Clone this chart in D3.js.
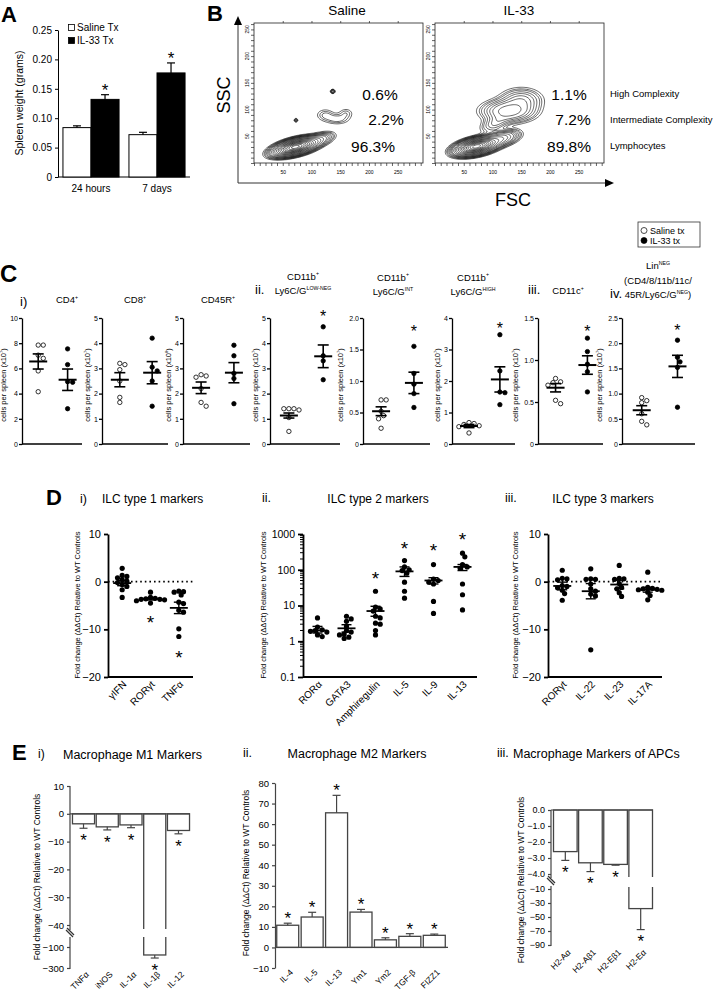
<!DOCTYPE html>
<html><head><meta charset="utf-8">
<script src="https://cdn.jsdelivr.net/npm/d3@7/dist/d3.min.js"></script>
<style>body{margin:0;background:#fff}svg{display:block}</style>
</head><body><svg id="fig" width="721" height="996"></svg>
<script>
// ================= DATA =================
// Panel A
const aGroups = ["24 hours", "7 days"];
const aSeries = ["Saline Tx", "IL-33 Tx"];
const aSaline = [0.084, 0.072];
const aSalineErr = [0.003, 0.004];
const aIL33 = [0.132, 0.177];
const aIL33Err = [0.008, 0.017];
const aTicks = [0, 0.05, 0.10, 0.15, 0.20, 0.25];

// Panel B
const bSamples = ["Saline", "IL-33"];
const bGates = ["High Complexity", "Intermediate Complexity", "Lymphocytes"];
const bSalinePct = ["0.6%", "2.2%", "96.3%"];
const bIL33Pct = ["1.1%", "7.2%", "89.8%"];
const bTicks = [50, 100, 150, 200, 250];
// populations: [FSC centre, SSC centre, sd major, sd minor, angle deg, weight]
const bSalinePops = [[72,30,18,6.2,15,1],[114,44,14,6,18,0.05],[124,90,10,7,0,0.012],[145,82,13,6,0,0.014],[160,93,8,6,0,0.01],[137,134,2.2,2.2,0,0.03],[73,80,2,2,0,0.02]];
const bIL33Pops = [[72,31,17,6.5,13,1],[112,45,17,7,15,0.12],[128,97,24,11,0,0.075],[150,118,20,12,0,0.035],[105,74,15,8,25,0.03]];
const bLevels = [0.92,0.8,0.68,0.57,0.47,0.38,0.3,0.23,0.17,0.12,0.085,0.06,0.04,0.03,0.022,0.016,0.011,0.008,0.005];

// Panel C
const cGroups = ["Saline tx", "IL-33 tx"];
const cSaline = [
  [7.85,7.85,7.05,6.8,5.8,4.15],
  [3.2,3.15,2.95,2.5,1.85,1.65],
  [2.75,2.7,2.65,2.2,1.65,1.5],
  [1.4,1.4,1.4,1.35,1.05,0.5],
  [0.7,0.7,0.52,0.45,0.4,0.25],
  [0.68,0.65,0.62,0.58,0.55,0.35],
  [0.78,0.74,0.73,0.7,0.52,0.48],
  [0.92,0.86,0.82,0.6,0.45,0.38]
];
const cIL33 = [
  [7.55,6.3,4.95,4.9,2.8],
  [4.2,3.05,2.9,2.5,1.5],
  [3.92,3.5,2.8,2.6,1.6],
  [4.65,3.5,3.3,2.55],
  [1.55,1.12,0.95,0.8,0.58],
  [3.47,2.32,1.65,1.63,1.25],
  [1.26,1.1,0.95,0.86,0.62],
  [2.06,1.72,1.63,1.52,0.73]
];
const cSalineMean = [6.55,2.55,2.23,1.13,0.52,0.57,0.67,0.67];
const cSalineSem = [0.6,0.28,0.23,0.1,0.07,0.05,0.05,0.09];
const cIL33Mean = [5.1,2.83,2.83,3.48,0.97,2.05,0.94,1.54];
const cIL33Sem = [0.85,0.44,0.4,0.45,0.17,0.4,0.11,0.22];
const cMax = [10,5,5,5,2,4,1.5,2.5];
const cStep = [2,1,1,1,0.5,1,0.5,0.5];
const cExp = ["7","7","8","7","7","7","7","7"];
const cStar = [null,null,null,5.2,1.84,3.8,1.39,2.32];
const cTitles = [
  [[["CD4",0],["+",1]]],
  [[["CD8",0],["+",1]]],
  [[["CD45R",0],["+",1]]],
  [[["CD11b",0],["+",1]],[["Ly6C/G",0],["LOW-NEG",1]]],
  [[["CD11b",0],["+",1]],[["Ly6C/G",0],["INT",1]]],
  [[["CD11b",0],["+",1]],[["Ly6C/G",0],["HIGH",1]]],
  [[["CD11c",0],["+",1]]],
  [[["Lin",0],["NEG",1]],[["(CD4/8/11b/11c/",0]],[["45R/Ly6C/G",0],["NEG",1],[")",0]]]
];
const cRoman = ["i)", null, null, "ii.", null, null, "iii.", "iv."];

// Panel D
const d1Cats = ["γIFN","RORγt","TNFα"];
const d1Vals = [
  [2.8,1.3,1.1,0.8,0.4,0.1,-0.2,-0.6,-1.0,-1.7,-3.3],
  [-2.2,-3.3,-3.5,-3.6,-3.7,-3.7,-3.8,-4.0,-4.5],
  [-2.0,-2.1,-2.2,-2.8,-4.3,-4.6,-6.0,-6.4,-9.9,-11.5]
];
const d1Mean = [-0.3,-3.6,-5.5];
const d1Sem = [0.55,0.25,1.2];
const d1Star = [null,-7.6,-15];
const d2Cats = ["RORα","GATA3","Amphiregulin","IL-5","IL-9","IL-13"];
const d2Vals = [
  [4.5,2.5,2.1,2.0,1.9,1.8,1.5,1.35],
  [5.0,4.2,3.6,2.6,2.0,1.8,1.6,1.5,1.3,1.2],
  [25,9,8,7,5,4.5,3.2,3.0,2.0,1.5],
  [180,120,100,95,80,45,25,16],
  [140,55,50,45,40,13,6],
  [290,230,140,120,110,40,20,7.5]
];
const d2Mean = [2.0,2.3,7.0,90,50,120];
const d2SemHi = [2.6,2.9,9.5,120,60,140];
const d2SemLo = [1.7,1.8,5.0,65,40,95];
const d2Star = [null,null,75,520,470,950];
const d2Ticks = [0.1,1,10,100,1000];
const d3Cats = ["RORγt","IL-22","IL-23","IL-17A"];
const d3Vals = [
  [2.4,0.7,0.6,0.4,-0.8,-1.0,-1.3,-1.8,-2.5,-3.9],
  [2.7,0.6,0.5,0.5,-0.5,-1.5,-2.0,-2.6,-3.0,-14.3],
  [3.4,0.7,0.6,0.5,-0.4,-1.2,-1.5,-2.3,-3.1],
  [2.0,-1.2,-1.4,-1.5,-1.6,-1.7,-1.8,-2.2,-2.9,-3.8]
];
const d3Mean = [-0.9,-2.0,-0.6,-1.7];
const d3Sem = [0.8,1.6,0.9,0.5];
const dLinTicks = [10,0,-10,-20];

// Panel E
const e1Cats = ["TNFα","iNOS","IL-1α","IL-1β","IL-12"];
const e1Vals = [-3.6,-4.7,-4.0,-176,-6.0];
const e1Err = [1.6,1.1,1.0,29,1.2];
const e1UpperTicks = [10,0,-10,-20,-30,-40];
const e1LowerTicks = [-100,-300];
const e2Cats = ["IL-4","IL-5","IL-13","Ym1","Ym2","TGF-β","FIZZ1"];
const e2Vals = [10.8,14.8,65.5,17.2,3.7,5.4,5.9];
const e2Err = [1.0,2.3,8.5,1.3,1.0,1.3,0.6];
const e2Ticks = [-10,0,10,20,30,40,50,60,70,80];
const e3Cats = ["H2-Aα","H2-Aβ1","H2-Eβ1","H2-Eα"];
const e3Vals = [-2.6,-3.3,-3.4,-38];
const e3Err = [0.55,0.55,0.05,30];
const e3UpperTicks = [0,-1,-2,-3,-4];
const e3LowerTicks = [-10,-30,-50,-70,-90];
const foldLabel = "Fold change (ΔΔCt) Relative to WT Controls";

// ================= HELPERS =================
const F = '"Liberation Sans", Arial, Helvetica, sans-serif';
const svg = d3.select("#fig").attr("font-family", F);

function T(g, x, y, s, fs, anchor, weight) {
  return g.append("text").attr("x", x).attr("y", y).attr("font-size", fs)
    .attr("text-anchor", anchor || "start").attr("font-weight", weight || "normal").text(s);
}
function rich(g, x, y, parts, fs, anchor, transform) {
  const t = g.append("text").attr("font-size", fs).attr("text-anchor", anchor || "middle");
  if (transform) t.attr("transform", transform); else t.attr("x", x).attr("y", y);
  let up = false;
  parts.forEach(([s, sup]) => {
    const ts = t.append("tspan").text(s);
    if (sup && !up) { ts.attr("font-size", fs * 0.55).attr("dy", -fs * 0.45); up = true; }
    else if (sup) { ts.attr("font-size", fs * 0.55); }
    else if (up) { ts.attr("dy", fs * 0.45); up = false; }
  });
  return t;
}
function star(g, x, yc, fs) { T(g, x, yc + fs * 0.58, "*", fs, "middle"); }
function line(g, x1, y1, x2, y2, sw, col) {
  return g.append("line").attr("x1", x1).attr("y1", y1).attr("x2", x2).attr("y2", y2)
    .attr("stroke", col || "#000").attr("stroke-width", sw || 1);
}
function styleAxis(sel, fs, col, sw) {
  sel.attr("font-family", F).attr("font-size", fs);
  sel.selectAll("path,line").attr("stroke", col || "#000").attr("stroke-width", sw || 1);
  sel.selectAll("text").attr("fill", "#000");
}
// simple deterministic beeswarm: dist = minimum centre distance allowed
function swarm(values, y, r, fac, dist) {
  const pts = values.map(v => ({ v, y: y(v), off: 0 })).sort((a, b) => a.y - b.y);
  const placed = [];
  const d = dist || (2 * r + 0.3);
  for (const p of pts) {
    const c = [0];
    for (let k = 1; k < 14; k++) c.push(k * r * fac, -k * r * fac);
    for (const o of c) {
      if (placed.every(q => (q.off - o) ** 2 + (q.y - p.y) ** 2 >= d * d)) { p.off = o; break; }
    }
    placed.push(p);
  }
  return pts;
}
function rotLabels(g, xs, cats, y, fs, dx) {
  cats.forEach(c => {
    g.append("text").attr("transform", `translate(${xs(c) + xs.bandwidth() / 2 + dx},${y}) rotate(-45)`)
      .attr("text-anchor", "end").attr("font-size", fs).text(c);
  });
}
function vLabel(g, x, y, s, fs) {
  g.append("text").attr("transform", `translate(${x},${y}) rotate(-90)`).attr("text-anchor", "middle")
    .attr("font-size", fs).text(s);
}

// ================= PANEL A =================
{
  const g = svg.append("g");
  T(g, 1, 22, "A", 22, "start", "bold");
  const y = d3.scaleLinear().domain([0, 0.25]).range([177, 30]);
  const x = d3.scaleBand().domain(aGroups).range([58, 190]).paddingInner(0.15).paddingOuter(0.075);
  const xs = d3.scaleBand().domain(aSeries).range([0, x.bandwidth()]);
  const ax = g.append("g").attr("transform", "translate(58,0)")
    .call(d3.axisLeft(y).tickValues(aTicks).tickFormat(d => d === 0 ? "0" : d.toFixed(2)).tickSize(3).tickSizeOuter(0));
  styleAxis(ax, 10, "#000", 1);
  line(g, 58, 177, 190, 177, 1);
  const series = [aSaline, aIL33], errs = [aSalineErr, aIL33Err], fills = ["#fff", "#000"];
  series.forEach((vals, s) => {
    vals.forEach((v, i) => {
      const bx = x(aGroups[i]) + xs(aSeries[s]);
      const cx = bx + xs.bandwidth() / 2;
      g.append("rect").attr("x", bx).attr("y", y(v)).attr("width", xs.bandwidth()).attr("height", y(0) - y(v))
        .attr("fill", fills[s]).attr("stroke", "#000").attr("stroke-width", 1);
      const top = y(v + errs[s][i]);
      line(g, cx, y(v), cx, top, 1.2);
      line(g, cx - 4, top, cx + 4, top, 1.2);
      if (s === 1) star(g, cx, top - 9, 17);
    });
  });
  aGroups.forEach(gr => T(g, x(gr) + x.bandwidth() / 2, 192, gr, 10, "middle"));
  vLabel(g, 23, 103, "Spleen weight (grams)", 10.5);
  aSeries.forEach((s, i) => {
    g.append("rect").attr("x", 68.5).attr("y", 24.5 + i * 13).attr("width", 6).attr("height", 6)
      .attr("fill", fills[i]).attr("stroke", "#000").attr("stroke-width", 0.8);
    T(g, 77, 31 + i * 13, s, 10);
  });
}

// ================= PANEL B =================
{
  const g = svg.append("g");
  T(g, 207, 21, "B", 22, "start", "bold");
  const boxX = [254, 435], bW = 169, bTop = 23, bBot = 163;
  const titleX = [347, 519];
  const step = 2, nx = 148, ny = 132;
  function dens(pops) {
    const v = new Float64Array(nx * ny);
    for (let j = 0; j < ny; j++) for (let i = 0; i < nx; i++) {
      const f = i * step, s = j * step; let sum = 0;
      for (const [cf, cs, sa, sb, ang, w] of pops) {
        const a = ang * Math.PI / 180, dx = f - cf, dy = s - cs;
        const u = dx * Math.cos(a) + dy * Math.sin(a), vv = -dx * Math.sin(a) + dy * Math.cos(a);
        sum += w * Math.exp(-0.5 * (u * u / (sa * sa) + vv * vv / (sb * sb)));
      }
      v[j * nx + i] = sum;
    }
    return v;
  }
  const pctRows = [100, 125, 152];
  const pctX = [[380, 386, 373], [569, 573, 569]];
  [bSalinePops, bIL33Pops].forEach((pops, k) => {
    const x0 = boxX[k];
    const xB = d3.scaleLinear().domain([0, 294]).range([x0, x0 + bW]);
    const yB = d3.scaleLinear().domain([0, 262]).range([bBot, bTop]);
    T(g, titleX[k], 15, bSamples[k], 13.5, "middle");
    const cid = "clipB" + k;
    g.append("clipPath").attr("id", cid).append("rect").attr("x", x0).attr("y", bTop).attr("width", bW).attr("height", bBot - bTop);
    const vals = dens(pops);
    const mx = d3.max(vals);
    const cs = d3.contours().size([nx, ny]).thresholds(bLevels.map(l => l * mx))(vals);
    const proj = d3.geoTransform({ point(px, py) { this.stream.point(xB((px - 0.5) * step), yB((py - 0.5) * step)); } });
    const path = d3.geoPath(proj);
    g.append("g").attr("clip-path", `url(#${cid})`).selectAll("path").data(cs).join("path")
      .attr("d", path).attr("fill", "none").attr("stroke", "#000").attr("stroke-width", 0.6);
    g.append("rect").attr("x", x0).attr("y", bTop).attr("width", bW).attr("height", bBot - bTop)
      .attr("fill", "none").attr("stroke", "#222").attr("stroke-width", 0.8);
    const bx = g.append("g").attr("transform", `translate(0,${bBot})`)
      .call(d3.axisBottom(xB).tickValues(d3.range(0, 291, 10)).tickSize(3).tickSizeOuter(0)
        .tickFormat(d => bTicks.includes(d) ? d : ""));
    styleAxis(bx, 5, "#222", 0.7);
    bx.select(".domain").remove();
    bx.selectAll("text").attr("dy", "0.9em");
    const tx = g.append("g").attr("transform", `translate(0,${bTop})`)
      .call(d3.axisTop(xB).tickValues(bTicks).tickSize(2).tickFormat(""));
    styleAxis(tx, 5, "#222", 0.7); tx.select(".domain").remove();
    const lx = g.append("g").attr("transform", `translate(${x0},0)`)
      .call(d3.axisLeft(yB).tickValues(d3.range(0, 261, 10)).tickSize(3).tickFormat(""));
    styleAxis(lx, 5, "#222", 0.7); lx.select(".domain").remove();
    bTicks.forEach(t => g.append("text").attr("transform", `translate(${x0 - 5},${yB(t)}) rotate(-90)`)
      .attr("text-anchor", "middle").attr("font-size", 5).text(t));
    const pcts = k === 0 ? bSalinePct : bIL33Pct;
    pcts.forEach((p, i) => T(g, pctX[k][i], pctRows[i], p, 15.5, "middle"));
  });
  bGates.forEach((s, i) => T(g, 610, [97, 123, 149][i], s, 9.5));
  line(g, 238, 183, 238, 24, 1, "#333");
  g.append("path").attr("d", "M234,25 L238,16 L242,25 Z").attr("fill", "#000");
  line(g, 238, 183, 606, 183, 1, "#333");
  g.append("path").attr("d", "M605,179 L614,183 L605,187 Z").attr("fill", "#000");
  vLabel(g, 230, 95, "SSC", 18);
  T(g, 513, 206, "FSC", 18, "middle");
}

// ================= PANEL C =================
{
  const g = svg.append("g");
  T(g, 0, 282, "C", 24, "start", "bold");
  g.append("rect").attr("x", 638).attr("y", 222).attr("width", 62).attr("height", 25)
    .attr("fill", "#fff").attr("stroke", "#333").attr("stroke-width", 0.8);
  cGroups.forEach((s, i) => {
    g.append("circle").attr("cx", 644).attr("cy", 230.5 + i * 10).attr("r", 3)
      .attr("fill", i ? "#000" : "#fff").attr("stroke", "#000").attr("stroke-width", 0.7);
    T(g, 650, 234 + i * 10, s, 9).attr("font-family", '"Liberation Sans Narrow", "Liberation Sans", Arial, sans-serif');
  });
  const axX = [22, 102, 183, 270, 363, 452, 538, 622];
  const wid = [60, 66, 67, 70, 67, 63, 65, 73];
  const titleX = [67, 135, 218, 303, 393, 473, 568, 658];
  const titleBase = [303, 303, 303, 294, 295, 295, 294, 298];
  const romanX = [20, 0, 0, 255, 0, 0, 528, 610];
  const romanY = [306, 0, 0, 294, 0, 0, 294, 298];
  const y0 = 444, y1 = 318, r = 2.2;
  axX.forEach((ax, k) => {
    const w = wid[k];
    const y = d3.scaleLinear().domain([0, cMax[k]]).range([y0, y1]);
    const x = d3.scalePoint().domain(cGroups).range([ax + w * 0.27, ax + w * 0.76]);
    const ticks = d3.range(0, cMax[k] + 1e-9, cStep[k]);
    const fmt = d => d === 0 ? "0" : (cStep[k] < 1 ? d.toFixed(1) : String(d));
    const a = g.append("g").attr("transform", `translate(${ax},0)`)
      .call(d3.axisLeft(y).tickValues(ticks).tickSize(3).tickSizeOuter(0).tickFormat(fmt));
    styleAxis(a, 7, "#000", 1.3);
    a.selectAll("text").attr("x", -4);
    line(g, ax, y0, ax + w, y0, 1.3);
    const maxW = d3.max(ticks.map(t => fmt(t).length)) * 3.9;
    rich(g, 0, 0, [["cells per spleen (x10", 0], [cExp[k], 1], [")", 0]], 7.5, "middle",
      `translate(${ax - 6 - maxW - 2},${385}) rotate(-90)`);
    [cSaline[k], cIL33[k]].forEach((vals, s) => {
      const cx = x(cGroups[s]);
      const pts = swarm(vals, y, r, 1.15);
      g.selectAll(null).data(pts).join("circle").attr("cx", d => cx + d.off).attr("cy", d => d.y).attr("r", r)
        .attr("fill", s ? "#000" : "#fff").attr("stroke", "#000").attr("stroke-width", 0.8);
      const m = s ? cIL33Mean[k] : cSalineMean[k];
      const e = s ? cIL33Sem[k] : cSalineSem[k];
      line(g, cx - 9, y(m), cx + 9, y(m), 2);
      line(g, cx, y(m + e), cx, y(m - e), 1.6);
      line(g, cx - 5.5, y(m + e), cx + 5.5, y(m + e), 1.6);
      line(g, cx - 5.5, y(m - e), cx + 5.5, y(m - e), 1.6);
      if (s === 1 && cStar[k] !== null) star(g, cx, y(cStar[k]), 16);
    });
    cTitles[k].forEach((ln, i) => {
      const n = cTitles[k].length;
      rich(g, titleX[k], titleBase[k] - (n - 1 - i) * 14.5, ln, 9.5, "middle");
    });
    if (cRoman[k]) T(g, romanX[k], romanY[k], cRoman[k], 13, "start");
  });
}

// ================= PANEL D =================
function drawD(g, cats, vals, mean, semLo, semHi, stars, xs, y, r) {
  cats.forEach((c, k) => {
    const cx = xs(c) + xs.bandwidth() / 2;
    const pts = swarm(vals[k], y, r, 0.9, r * 1.55);
    g.selectAll(null).data(pts).join("circle").attr("cx", d => cx + d.off).attr("cy", d => d.y).attr("r", r).attr("fill", "#000");
    line(g, cx - 9, y(mean[k]), cx + 9, y(mean[k]), 1.8);
    line(g, cx, y(semHi[k]), cx, y(semLo[k]), 1.4);
    line(g, cx - 5, y(semHi[k]), cx + 5, y(semHi[k]), 1.4);
    line(g, cx - 5, y(semLo[k]), cx + 5, y(semLo[k]), 1.4);
    if (stars && stars[k] !== null) star(g, cx, y(stars[k]), 19);
  });
}
{
  const g = svg.append("g");
  T(g, 46, 505, "D", 22, "start", "bold");
  T(g, 80, 503, "i)", 12.5);
  T(g, 102, 503, "ILC type 1 markers", 12);
  T(g, 262, 502, "ii.", 12.5);
  T(g, 378, 503, "ILC type 2 markers", 12, "middle");
  T(g, 505, 502, "iii.", 12.5);
  T(g, 603, 503, "ILC type 3 markers", 12, "middle");
  const top = 534, bot = 677;
  {
    const y = d3.scaleLinear().domain([-20, 10]).range([bot, top]);
    const xs = d3.scaleBand().domain(d1Cats).range([108, 193]);
    const a = g.append("g").attr("transform", "translate(108,0)")
      .call(d3.axisLeft(y).tickValues(dLinTicks).tickSize(4).tickSizeOuter(0));
    styleAxis(a, 11, "#000", 1.8);
    line(g, 108, bot, 193, bot, 1.8);
    line(g, 108, y(0), 193, y(0), 1.6).attr("stroke-dasharray", "1.6,3");
    drawD(g, d1Cats, d1Vals, d1Mean, d1Mean.map((m, i) => m - d1Sem[i]), d1Mean.map((m, i) => m + d1Sem[i]), d1Star, xs, y, 2.6);
    rotLabels(g, xs, d1Cats, bot + 8, 10, 5);
    vLabel(g, 80, 605, foldLabel, 7.5);
  }
  {
    const y = d3.scaleLog().domain([0.1, 1000]).range([bot, top]);
    const xs = d3.scaleBand().domain(d2Cats).range([303, 477]);
    const a = g.append("g").attr("transform", "translate(303,0)")
      .call(d3.axisLeft(y).tickValues(d2Ticks).tickSize(5).tickSizeOuter(0).tickFormat(d => String(d)));
    styleAxis(a, 10.5, "#000", 1.8);
    const minors = [];
    d2Ticks.slice(0, -1).forEach(t => { for (let m = 2; m <= 9; m++) minors.push(t * m); });
    minors.forEach(v => line(g, 300, y(v), 303, y(v), 1));
    line(g, 303, bot, 477, bot, 1.8);
    drawD(g, d2Cats, d2Vals, d2Mean, d2SemLo, d2SemHi, d2Star, xs, y, 2.6);
    rotLabels(g, xs, d2Cats, bot + 8, 10, 5);
    vLabel(g, 266, 605, foldLabel, 7.5);
  }
  {
    const y = d3.scaleLinear().domain([-20, 10]).range([bot, top]);
    const xs = d3.scaleBand().domain(d3Cats).range([548, 662]);
    const a = g.append("g").attr("transform", "translate(548,0)")
      .call(d3.axisLeft(y).tickValues(dLinTicks).tickSize(4).tickSizeOuter(0));
    styleAxis(a, 11, "#000", 1.8);
    line(g, 548, bot, 662, bot, 1.8);
    line(g, 548, y(0), 662, y(0), 1.6).attr("stroke-dasharray", "1.6,3");
    drawD(g, d3Cats, d3Vals, d3Mean, d3Mean.map((m, i) => m - d3Sem[i]), d3Mean.map((m, i) => m + d3Sem[i]), null, xs, y, 2.6);
    rotLabels(g, xs, d3Cats, bot + 8, 10, 5);
    vLabel(g, 518, 605, foldLabel, 7.5);
  }
}

// ================= PANEL E =================
function breakMark(g, x, y) {
  line(g, x - 4, y - 4, x + 3, y + 3, 1.3, "#333");
  line(g, x - 3, y - 6, x + 4, y + 1, 1.3, "#333");
}
function barsBroken(g, cats, vals, errs, xs, yf, zeroY, gap, col) {
  cats.forEach((c, k) => {
    const bx = xs(c), bw = xs.bandwidth(), cx = bx + bw / 2;
    const v = vals[k], yv = yf(v);
    const y1 = Math.min(zeroY, yv), h = Math.abs(yv - zeroY);
    g.append("rect").attr("x", bx).attr("y", y1).attr("width", bw).attr("height", h)
      .attr("fill", "#fff").attr("stroke", col).attr("stroke-width", 1.3);
    if (gap && yv > gap[1]) g.append("rect").attr("x", bx - 2).attr("y", gap[0]).attr("width", bw + 4).attr("height", gap[1] - gap[0]).attr("fill", "#fff");
    const ye = yf(v + (v >= 0 ? errs[k] : -errs[k]));
    line(g, cx, yv, cx, ye, 1.2, col);
    line(g, cx - 4, ye, cx + 4, ye, 1.2, col);
    star(g, cx, v >= 0 ? ye - 9 : ye + 8, 17);
  });
}
{
  const g = svg.append("g");
  const col = "#444";
  T(g, 12, 760, "E", 22, "start", "bold");
  T(g, 38, 758, "i)", 12);
  T(g, 63, 759, "Macrophage M1 Markers", 12.5);
  T(g, 243, 757, "ii.", 12.5);
  T(g, 357, 758, "Macrophage M2 Markers", 12.5, "middle");
  T(g, 497, 757, "iii.", 12.5);
  T(g, 513, 758, "Macrophage Markers of APCs", 12.5);
  {
    const up = d3.scaleLinear().domain([-40, 10]).range([925, 786]);
    const low = d3.scaleLinear().domain([-300, -100]).range([968, 947]);
    const yf = v => v >= -43 ? up(v) : low(v);
    const ax = 70;
    const a1 = g.append("g").attr("transform", `translate(${ax},0)`).call(d3.axisLeft(up).tickValues(e1UpperTicks).tickSize(3));
    styleAxis(a1, 9.5, col, 1.2); a1.select(".domain").remove();
    const a2 = g.append("g").attr("transform", `translate(${ax},0)`).call(d3.axisLeft(low).tickValues(e1LowerTicks).tickSize(3));
    styleAxis(a2, 9.5, col, 1.2); a2.select(".domain").remove();
    line(g, ax, 786, ax, 930, 1.2, col);
    line(g, ax, 937, ax, 969, 1.2, col);
    breakMark(g, ax, 934);
    const xs = d3.scaleBand().domain(e1Cats).range([72, 190]).paddingInner(0.07).paddingOuter(0.02);
    barsBroken(g, e1Cats, e1Vals, e1Err, xs, yf, up(0), [929, 937], col);
    line(g, ax, up(0), 190, up(0), 1.2, col);
    rotLabels(g, xs, e1Cats, 975, 8.5, 6);
    vLabel(g, 40, 877, foldLabel, 8.5);
  }
  {
    const y = d3.scaleLinear().domain([-10, 80]).range([968, 783]);
    const ax = 275;
    const a = g.append("g").attr("transform", `translate(${ax},0)`).call(d3.axisLeft(y).tickValues(e2Ticks).tickSize(3).tickSizeOuter(0));
    styleAxis(a, 9.5, col, 1.2);
    const xs = d3.scaleBand().domain(e2Cats).range([276, 446]).paddingInner(0.1).paddingOuter(0.03);
    barsBroken(g, e2Cats, e2Vals, e2Err, xs, y, y(0), null, col);
    line(g, ax, y(0), 448, y(0), 1.2, col);
    rotLabels(g, xs, e2Cats, 973, 8.5, 6);
    vLabel(g, 249, 873, foldLabel, 8.5);
  }
  {
    const up = d3.scaleLinear().domain([-4, 0]).range([874, 810]);
    const low = d3.scaleLinear().domain([-90, -10]).range([945, 889]);
    const yf = v => v >= -4.3 ? up(v) : low(v);
    const ax = 551;
    const a1 = g.append("g").attr("transform", `translate(${ax},0)`).call(d3.axisLeft(up).tickValues(e3UpperTicks).tickSize(3));
    styleAxis(a1, 9, col, 1.2); a1.select(".domain").remove();
    const a2 = g.append("g").attr("transform", `translate(${ax},0)`).call(d3.axisLeft(low).tickValues(e3LowerTicks).tickSize(3));
    styleAxis(a2, 9, col, 1.2); a2.select(".domain").remove();
    line(g, ax, 810, ax, 878, 1.2, col);
    line(g, ax, 886, ax, 946, 1.2, col);
    breakMark(g, ax, 882);
    const xs = d3.scaleBand().domain(e3Cats).range([553, 653]).paddingInner(0.06).paddingOuter(0.02);
    barsBroken(g, e3Cats, e3Vals, e3Err, xs, yf, up(0), [877, 887], col);
    line(g, ax, up(0), 653, up(0), 1.2, col);
    rotLabels(g, xs, e3Cats, 953, 8.5, 6);
    vLabel(g, 524, 880, foldLabel, 8.5);
  }
}
</script></body></html>
